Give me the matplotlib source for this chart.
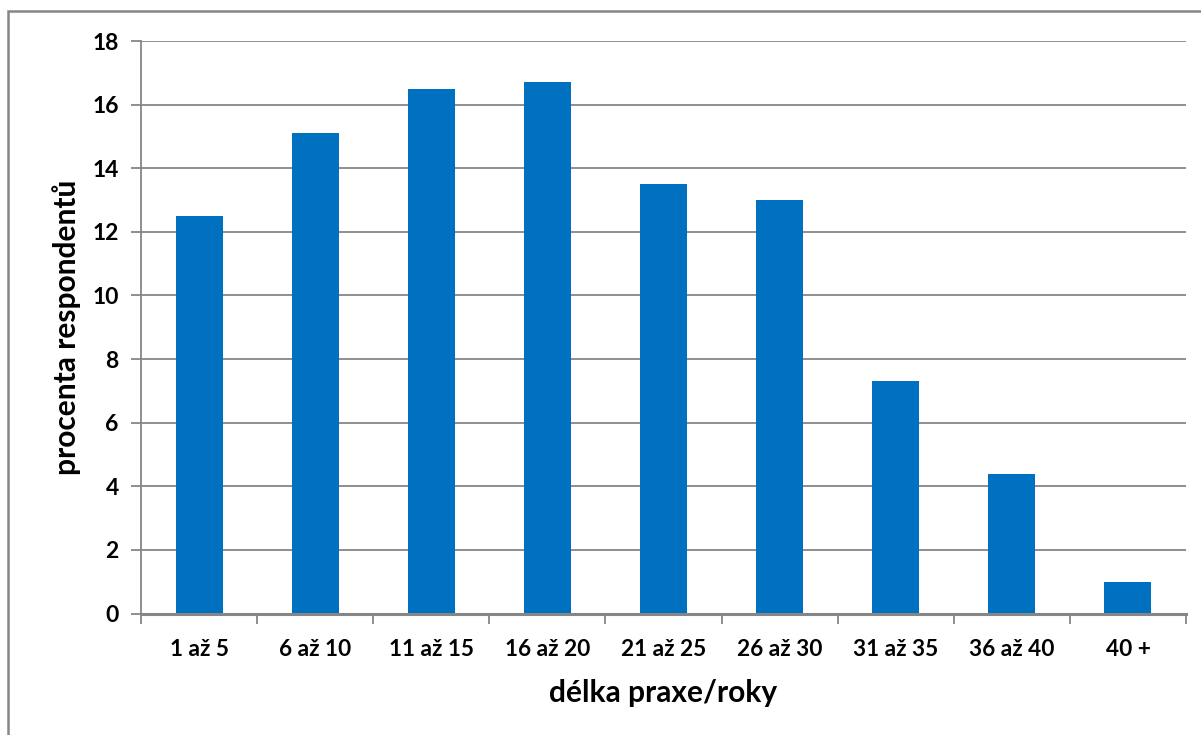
import matplotlib
matplotlib.use("Agg")
import matplotlib.pyplot as plt
from matplotlib.patches import Rectangle
import numpy as np

categories = ["1 až 5", "6 až 10", "11 až 15", "16 až 20", "21 až 25",
              "26 až 30", "31 až 35", "36 až 40", "40 +"]
values = [12.5, 15.1, 16.5, 16.7, 13.5, 13.0, 7.3, 4.4, 1.0]
y_ticks = [0, 2, 4, 6, 8, 10, 12, 14, 16, 18]

plt.rcParams["font.family"] = ["Lato", "DejaVu Sans"]
plt.rcParams["font.weight"] = "bold"

W, H = 1201, 735
fig = plt.figure(figsize=(W / 100, H / 100), dpi=100)
ax = fig.add_axes([141 / W, 1 - 613.5 / H, (1186 - 141) / W, (613.5 - 41) / H])

grid_col = "#868686"
bar_col = "#0070C0"

x = np.arange(len(categories))
ax.bar(x, values, width=0.405, color=bar_col, zorder=3)

ax.set_xlim(-0.5, len(categories) - 0.5)
ax.set_ylim(0, 18)
ax.set_yticks(y_ticks)
ax.yaxis.grid(True, color=grid_col, linewidth=1.3, zorder=0)

ax.set_xticks(x)
ax.set_xticklabels(categories)
ax.set_xticks(np.arange(len(categories) + 1) - 0.5, minor=True)
ax.tick_params(axis="x", which="major", length=0, pad=18, labelsize=16.3)
ax.tick_params(axis="x", which="minor", length=7, width=1.3, color=grid_col)
ax.tick_params(axis="y", length=7, width=1.3, color=grid_col, pad=9, labelsize=16.5)

for side in ("top", "right"):
    ax.spines[side].set_visible(False)
ax.spines["left"].set_color(grid_col)
ax.spines["left"].set_linewidth(1.3)
ax.spines["bottom"].set_color(grid_col)
ax.spines["bottom"].set_linewidth(2.2)
ax.spines["bottom"].set_zorder(4)

ax.set_xlabel("délka praxe/roky", fontsize=21.5, fontweight="bold", labelpad=14)
ax.set_ylabel("procenta respondentů", fontsize=21.5, fontweight="bold", labelpad=8)

# outer chart border (top and left edges visible)
fig.patches.append(Rectangle((8 / W, -0.05), 1.2, (1 - 11 / H) + 0.05,
                             transform=fig.transFigure, fill=False,
                             edgecolor=grid_col, linewidth=1.8))

fig.savefig("out.png", dpi=100)
